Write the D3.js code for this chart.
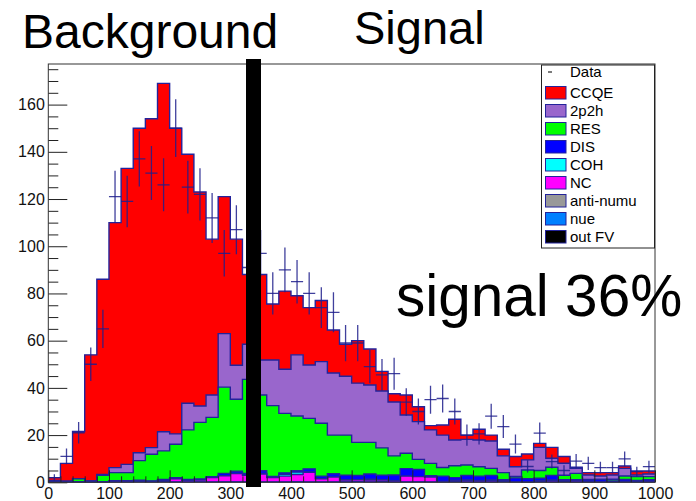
<!DOCTYPE html>
<html>
<head>
<meta charset="utf-8">
<script src="https://cdn.jsdelivr.net/npm/d3@7"></script>
<style>
  html, body { margin: 0; padding: 0; background: #fff; }
  svg { display: block; }
  text { font-family: "Liberation Sans", Arial, Helvetica, sans-serif; }
</style>
</head>
<body>
<svg id="chart" width="696" height="501"></svg>
<script>
// ---- data (reconstructed momentum histogram, 50 bins of width 20 from 0 to 1000) ----
const binEdges = d3.range(0, 1000, 20);            // lower edges of bins
const binWidth = 20;
const xTickLabels = ["0","100","200","300","400","500","600","700","800","900","1000"];
const yTickLabels = ["0","20","40","60","80","100","120","140","160"];

const dataCounts = [2,11,21,50,65,121,119,137,131,126,150,125,122,112,97,107,91,97,80,90,
                    85,80,74,72,59,59,49,45.5,46,34,30,35,35.5,30,20,20.5,28,23.6,16.2,6.7,
                    20.8,8.8,5,9,8,6.2,6.2,9.9,4.5,6.6];

const outFV   = [0.3,0,0,0,0,0,0,0.3,0,0.2,0,0,0,0,0,0,0,0,0,0,
                 0,0,0,0,0,0,0,0.2,0,0,0,0,0,0,0,0,0,0,0,0,
                 0,0,0.2,0,0,0,0,0,0,0];
const nue     = [0,0,0,0,0,0,0,0,0,0,0,0,0,0,0,0,0,0,0,0,
                 0.2,0,0,0,0,0.3,0,0,0,0,0,0,0,0.3,0,0,0,0.4,0.3,0,
                 0,0,0,0,0,0,0,0,0,0];
const antiNumu= [0,0,0,0,0,0,0,0,0.2,0.3,0,0,0.2,0,0.2,0.2,0,0,0,0,
                 0,0,0,0,0.2,0,0,0,0,0,0.2,0,0,0,0,0,0,0,0,0,
                 0.3,0,0,0,0,0.2,0,0,0,0];
const nc      = [0,0,0,0,0,0.5,0.5,0,0.2,0.3,1.5,0.8,0.8,2.0,2.6,3.5,3.0,3.5,2.0,2.6,
                 3.1,4.2,1.5,2.2,0.8,0.8,1.0,0.8,0.7,2.6,2.2,2.2,0.4,0.5,0.9,0.7,0.9,0.3,0,0,
                 0.4,0.9,0.7,0.7,0.3,0,0.3,0.4,0.3,0.5];
const coh     = [0,0,0,0,0,0,0,0,0,0,0,0,0,0,0,0,0,0.3,0.2,0.8,
                 1.0,0.2,0,0,0,0,0.3,0,0,0,0,0,0,0,0,0,0,0,0,0,
                 0,0,0,0,0,0,0,0,0,0];
const dis     = [0,0.2,0,0,0.3,0.2,0.2,0.6,0.2,0.4,0.4,0.4,0.4,0.4,1.0,1.0,0.8,1.1,0.3,0.6,
                 0.6,1.3,1.1,1.4,2.0,1.8,2.2,2.0,2.4,3.2,3.0,0.6,2.2,1.2,2.0,1.9,2.0,0.4,1.5,1.5,
                 1.0,2.0,0.2,0.4,0.7,1.0,0.3,0.8,0.5,0.6];
const res     = [0.2,0.3,1.5,0.6,2.7,3.4,3.4,8.3,11.3,12.1,14.2,21.0,24.0,25.1,36.5,30.5,39.8,32.1,30.0,25.2,
                 23.2,21.4,22.4,16.4,17.0,14.0,13.4,11.6,8.1,6.5,4.3,5.2,3.7,5.0,4.4,4.0,3.0,3.0,0.7,3.7,
                 3.3,3.5,1.9,2.7,0.2,0,0.7,1.5,1.6,1.3];
const twoP2h  = [0.3,0,0,0,0.3,2.1,3.5,3.3,2.8,8.1,4.4,11.3,6.9,9.5,22.7,14.4,14.9,14.8,19.3,18.7,
                 25.9,22.6,26.1,26.3,24.9,25.1,24.3,24.1,22.8,16.2,16.0,14.2,13.7,10.9,10.9,11.3,11.6,7.1,4.1,4.3,
                 9.8,3.8,5.1,2.1,1.9,1.5,1.8,3.2,0.7,1.1];
const ccqe    = [1.2,7.5,20,53.4,82.7,103.8,125.4,137.5,139.3,147.6,129.5,105.5,90.7,66,58,53.4,29.5,36.2,23.7,33.1,
                 25,24.3,25.9,18.2,13.6,18,15.3,8.3,3.5,8.5,6.3,1.8,4.3,8.8,1.8,4.6,2.5,2.8,4.3,2.5,
                 1.7,4.6,2.8,0.5,1.0,1.4,1.0,1.0,1.7,1.3];

// legend / stacking order (legend top-to-bottom); stack is drawn bottom-to-top reversed
const legendNames  = ["Data","CCQE","2p2h","RES","DIS","COH","NC","anti-numu","nue","out FV"];
const stackKeys    = ["out FV","nue","anti-numu","NC","COH","DIS","RES","2p2h","CCQE"];
const seriesArrays = {"out FV":outFV,"nue":nue,"anti-numu":antiNumu,"NC":nc,"COH":coh,"DIS":dis,
                      "RES":res,"2p2h":twoP2h,"CCQE":ccqe};
const colors = {"CCQE":"#ff0000","2p2h":"#9966cc","RES":"#00ff00","DIS":"#0000ff","COH":"#00ffff",
                "NC":"#ff00ff","anti-numu":"#999999","nue":"#0080ff","out FV":"#000000"};

// ---- layout ----
const svg = d3.select("#chart");
const X0 = 48.3, X1 = 655, Y0 = 482.3, Y1 = 64;
const x = d3.scaleLinear().domain([0, 1000]).range([X0, X1]);
const y = d3.scaleLinear().domain([0, 177.2]).range([Y0, Y1]);
const outline = "#23239b";

svg.append("defs").append("clipPath").attr("id","plotclip")
  .append("rect").attr("x",X0).attr("y",Y1).attr("width",X1-X0).attr("height",Y0-Y1);

// table for d3.stack
const table = binEdges.map((e,i) => {
  const row = {edge: e};
  stackKeys.forEach(k => row[k] = seriesArrays[k][i]);
  return row;
});
const stacked = d3.stack().keys(stackKeys)(table);

const plot = svg.append("g").attr("clip-path","url(#plotclip)");

// ROOT-style stacked histograms: draw cumulative histograms from the largest down
const stepPts = layer => {
  const pts = layer.map(d => [d.data.edge, d[1]]);
  pts.push([1000, layer[layer.length-1][1]]);
  return pts;
};
const area = d3.area().curve(d3.curveStepAfter)
  .x(p => x(p[0])).y0(y(0)).y1(p => y(p[1]));
const line = d3.line().curve(d3.curveStepAfter)
  .x(p => x(p[0])).y(p => y(p[1]));

stacked.slice().reverse().forEach(layer => {
  const pts = stepPts(layer);
  plot.append("path").attr("d", area(pts)).attr("fill", colors[layer.key]).attr("stroke","none");
  plot.append("path").attr("d", line(pts)).attr("fill","none")
      .attr("stroke", outline).attr("stroke-width",1.4);
});

// data points with sqrt(N) errors
const dataG = plot.append("g").attr("stroke","#1e1e8c").attr("stroke-width",1.3).attr("stroke-opacity",0.85);
dataCounts.forEach((v,i) => {
  const lo = binEdges[i], c = lo + binWidth/2, err = Math.sqrt(v);
  dataG.append("line").attr("x1",x(lo)).attr("x2",x(lo+binWidth)).attr("y1",y(v)).attr("y2",y(v));
  dataG.append("line").attr("x1",x(c)).attr("x2",x(c)).attr("y1",y(v-err)).attr("y2",y(v+err));
});

// ---- axes (ticks inside, like ROOT) ----
const yMajor = yTickLabels.map(Number);
const yMinor = d3.range(0, 177, 5).filter(v => v % 20 !== 0);
svg.append("g").attr("transform",`translate(${X0},0)`)
  .call(d3.axisLeft(y).tickValues(yMajor).tickFormat((d,i)=>yTickLabels[i]).tickSize(-19).tickPadding(3.5));
svg.append("g").attr("transform",`translate(${X0},0)`)
  .call(d3.axisLeft(y).tickValues(yMinor).tickFormat("").tickSize(-10));
const xMajor = xTickLabels.map(Number);
const xMinor = d3.range(0, 1001, 20).filter(v => v % 100 !== 0);
svg.append("g").attr("transform",`translate(0,${Y0})`)
  .call(d3.axisBottom(x).tickValues(xMajor).tickFormat((d,i)=>xTickLabels[i]).tickSize(-12).tickPadding(5.5));
svg.append("g").attr("transform",`translate(0,${Y0})`)
  .call(d3.axisBottom(x).tickValues(xMinor).tickFormat("").tickSize(-6));
svg.selectAll(".domain").remove();
svg.selectAll(".tick line").attr("stroke","#222");
svg.selectAll(".tick text").attr("font-size",16).attr("fill","#111")
   .attr("font-family",'"Liberation Sans", Arial, sans-serif');

// frame
svg.append("rect").attr("x",X0).attr("y",Y1).attr("width",X1-X0).attr("height",Y0-Y1)
  .attr("fill","none").attr("stroke","#333").attr("stroke-width",1);

// ---- legend ----
const lg = svg.append("g");
lg.append("rect").attr("x",541.5).attr("y",65).attr("width",113).attr("height",183)
  .attr("fill","#fff").attr("stroke","#222").attr("stroke-width",1);
legendNames.forEach((name,i) => {
  const cy = i === 0 ? 72 : 93 + 18*(i-1);
  if (i === 0) {
    lg.append("line").attr("x1",548).attr("x2",552).attr("y1",cy).attr("y2",cy)
      .attr("stroke","#222").attr("stroke-width",1.2);
  } else {
    lg.append("rect").attr("x",545.5).attr("y",cy-6.5).attr("width",20.5).attr("height",12.5)
      .attr("fill",colors[name]).attr("stroke",outline).attr("stroke-width",1);
  }
  lg.append("text").attr("x",570).attr("y",cy).attr("dy","0.36em").attr("font-size",15)
    .attr("fill","#000").text(name);
});

// ---- black divider bar ----
svg.append("rect").attr("x",246).attr("y",59).attr("width",15).attr("height",428).attr("fill","#000");

// ---- annotations ----
svg.append("text").attr("x",22).attr("y",48).attr("font-size",48).attr("fill","#000").text("Background");
svg.append("text").attr("x",354).attr("y",44).attr("font-size",47).attr("fill","#000").text("Signal");
svg.append("text").attr("x",396).attr("y",316).attr("font-size",58.5).attr("fill","#000").text("signal 36%");
</script>
</body>
</html>
